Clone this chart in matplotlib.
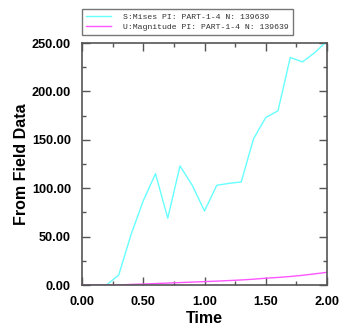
import matplotlib
matplotlib.use("Agg")
import matplotlib.pyplot as plt
from matplotlib.ticker import MultipleLocator, FormatStrFormatter

time = [0.0, 0.1, 0.2, 0.3, 0.4, 0.5, 0.6, 0.7, 0.8, 0.9, 1.0,
        1.1, 1.2, 1.3, 1.4, 1.5, 1.6, 1.7, 1.8, 1.9, 2.0]
mises = [0.0, 0.0, 0.0, 10.3, 52.0, 87.0, 115.0, 69.0, 123.0, 103.0, 76.5,
         103.0, 105.0, 106.5, 151.0, 173.0, 180.0, 235.0, 230.5, 240.0, 252.0]
umag = [0.0, 0.0, 0.0, 0.0, 0.6, 1.0, 1.5, 2.0, 2.5, 3.0, 3.5,
        4.0, 4.6, 5.2, 6.0, 7.0, 7.8, 8.8, 10.0, 11.5, 13.1]
labels = ["S:Mises PI: PART-1-4 N: 139639", "U:Magnitude PI: PART-1-4 N: 139639"]

fig = plt.figure(figsize=(3.51, 3.31), dpi=100)
ax = fig.add_axes([82/351, 46/331, 245/351, 242/331])

l1, = ax.plot(time, mises, color="#66ffff", lw=1.0)
l2, = ax.plot(time, umag, color="#ff55ff", lw=1.0)

ax.set_xlim(0, 2.0)
ax.set_ylim(0, 250)
ax.xaxis.set_major_locator(MultipleLocator(0.5))
ax.xaxis.set_minor_locator(MultipleLocator(0.25))
ax.yaxis.set_major_locator(MultipleLocator(50))
ax.yaxis.set_minor_locator(MultipleLocator(25))
ax.xaxis.set_major_formatter(FormatStrFormatter("%.2f"))
ax.yaxis.set_major_formatter(FormatStrFormatter("%.2f"))

for s in ax.spines.values():
    s.set_color("#555555")
    s.set_linewidth(1.2)

ax.tick_params(which="both", direction="in", top=True, right=True,
               colors="#555555", labelcolor="black")
ax.tick_params(which="major", length=6, width=1.0, pad=8, labelsize=9.2)
ax.tick_params(which="minor", length=3, width=1.0)
for t in ax.get_xticklabels() + ax.get_yticklabels():
    t.set_fontfamily("Liberation Sans")
    t.set_fontweight("bold")

ax.set_xlabel("Time", fontsize=11.5, fontweight="bold", family="Liberation Sans", labelpad=2)
ax.set_ylabel("From Field Data", fontsize=11.5, fontweight="bold", family="Liberation Sans", labelpad=2)

leg = fig.legend([l1, l2], labels, loc="upper left",
                 bbox_to_anchor=(82/351, 1 - 9/331),
                 prop={"family": "Liberation Mono", "size": 5.9},
                 frameon=True, fancybox=False, handlelength=3.0,
                 borderpad=0.5, labelspacing=0.3, handletextpad=1.5,
                 borderaxespad=0)
leg.get_frame().set_edgecolor("#555555")
leg.get_frame().set_linewidth(1.0)
for t in leg.get_texts():
    t.set_color("#333333")

fig.savefig("out.png", dpi=100, facecolor="white")
